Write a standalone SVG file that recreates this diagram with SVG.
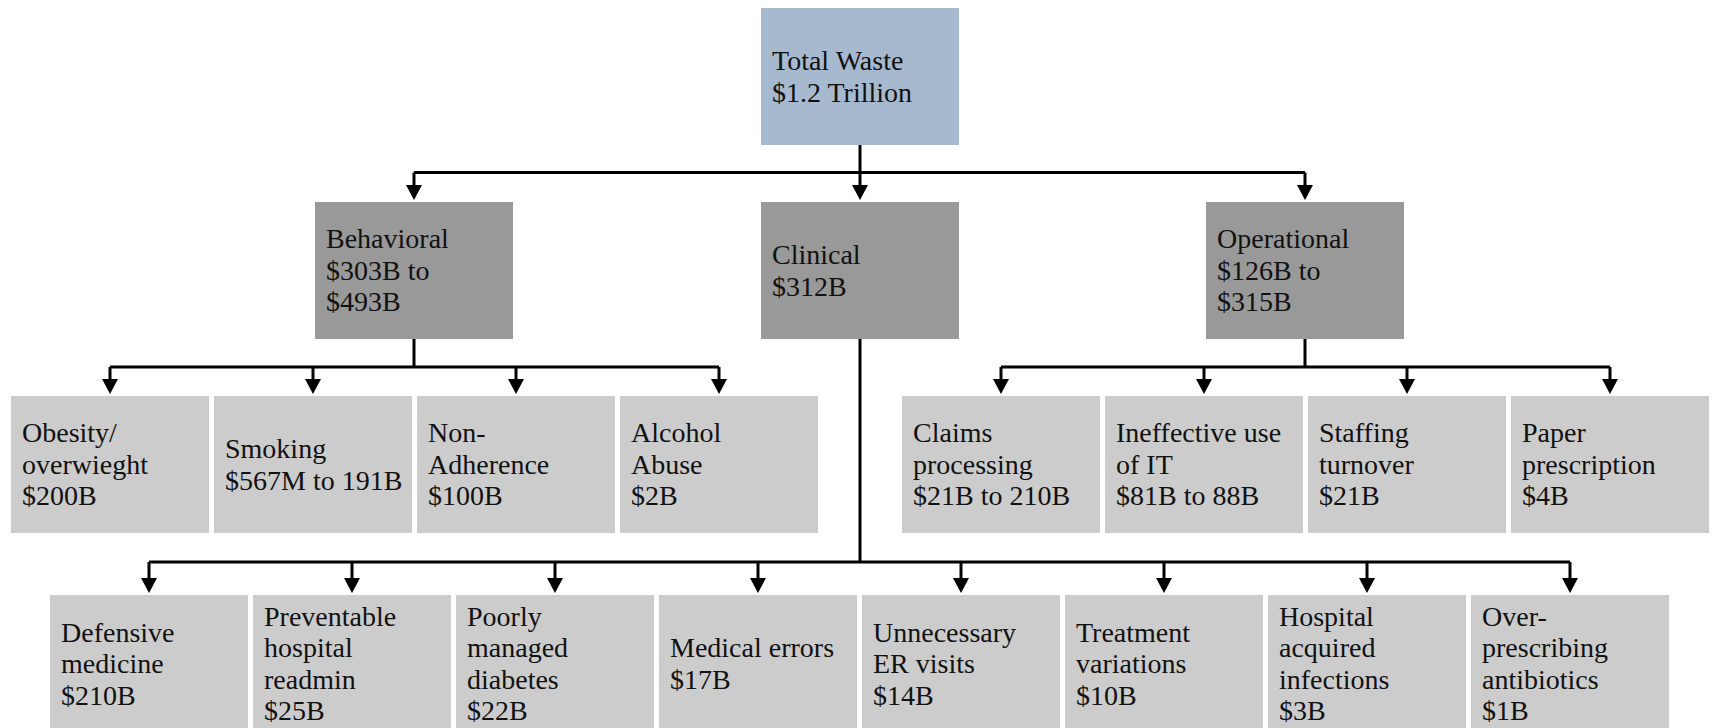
<svg xmlns="http://www.w3.org/2000/svg" width="1712" height="728" viewBox="0 0 1712 728">
<style>
.root{fill:#A6B9CF}
.l2{fill:#999999}
.l3{fill:#CCCCCC}
text{font-family:"Liberation Serif","Times New Roman",serif;font-size:28px;fill:#111111}
.c{fill:none;stroke:#000000;stroke-width:3}
.a{fill:none;stroke:#000000;stroke-width:3;marker-end:url(#arr)}
</style>
<defs>
<marker id="arr" viewBox="0 0 16 16" refX="0" refY="8" markerWidth="16" markerHeight="16" markerUnits="userSpaceOnUse" orient="auto">
<path d="M0,0 L15,8 L0,16 z" fill="#000000"/>
</marker>
</defs>
<g id="connectors">
<path class="c" d="M860,145 V172.5 M414,172.5 H1305"/>
<path class="a" d="M414,172.5 V185"/>
<path class="a" d="M860,172.5 V185"/>
<path class="a" d="M1305,172.5 V185"/>
<path class="c" d="M414,339 V367 M110,367 H719"/>
<path class="a" d="M110,367 V379"/>
<path class="a" d="M313,367 V379"/>
<path class="a" d="M516,367 V379"/>
<path class="a" d="M719,367 V379"/>
<path class="c" d="M1305,339 V367 M1001,367 H1610"/>
<path class="a" d="M1001,367 V379"/>
<path class="a" d="M1204,367 V379"/>
<path class="a" d="M1407,367 V379"/>
<path class="a" d="M1610,367 V379"/>
<path class="c" d="M860,339 V562 M149,562 H1570"/>
<path class="a" d="M149,562 V578"/>
<path class="a" d="M352,562 V578"/>
<path class="a" d="M555,562 V578"/>
<path class="a" d="M758,562 V578"/>
<path class="a" d="M961,562 V578"/>
<path class="a" d="M1164,562 V578"/>
<path class="a" d="M1367,562 V578"/>
<path class="a" d="M1570,562 V578"/>
</g>
<g id="total"><rect class="root" x="761" y="8" width="198" height="137"/><text x="772" y="70">Total Waste<tspan x="772" dy="31.5">$1.2 Trillion</tspan></text></g>
<g id="behavioral"><rect class="l2" x="315" y="202" width="198" height="137"/><text x="326" y="248.3">Behavioral<tspan x="326" dy="31.5">$303B to</tspan><tspan x="326" dy="31.5">$493B</tspan></text></g>
<g id="clinical"><rect class="l2" x="761" y="202" width="198" height="137"/><text x="772" y="264">Clinical<tspan x="772" dy="31.5">$312B</tspan></text></g>
<g id="operational"><rect class="l2" x="1206" y="202" width="198" height="137"/><text x="1217" y="248.3">Operational<tspan x="1217" dy="31.5">$126B to</tspan><tspan x="1217" dy="31.5">$315B</tspan></text></g>
<g id="obesity"><rect class="l3" x="11" y="396" width="198" height="137"/><text x="22" y="442.3">Obesity/<tspan x="22" dy="31.5">overwieght</tspan><tspan x="22" dy="31.5">$200B</tspan></text></g>
<g id="smoking"><rect class="l3" x="214" y="396" width="198" height="137"/><text x="225" y="458">Smoking<tspan x="225" dy="31.5">$567M to 191B</tspan></text></g>
<g id="nonadherence"><rect class="l3" x="417" y="396" width="198" height="137"/><text x="428" y="442.3">Non-<tspan x="428" dy="31.5">Adherence</tspan><tspan x="428" dy="31.5">$100B</tspan></text></g>
<g id="alcohol"><rect class="l3" x="620" y="396" width="198" height="137"/><text x="631" y="442.3">Alcohol<tspan x="631" dy="31.5">Abuse</tspan><tspan x="631" dy="31.5">$2B</tspan></text></g>
<g id="claims"><rect class="l3" x="902" y="396" width="198" height="137"/><text x="913" y="442.3">Claims<tspan x="913" dy="31.5">processing</tspan><tspan x="913" dy="31.5">$21B to 210B</tspan></text></g>
<g id="it"><rect class="l3" x="1105" y="396" width="198" height="137"/><text x="1116" y="442.3">Ineffective use<tspan x="1116" dy="31.5">of IT</tspan><tspan x="1116" dy="31.5">$81B to 88B</tspan></text></g>
<g id="staffing"><rect class="l3" x="1308" y="396" width="198" height="137"/><text x="1319" y="442.3">Staffing<tspan x="1319" dy="31.5">turnover</tspan><tspan x="1319" dy="31.5">$21B</tspan></text></g>
<g id="paper"><rect class="l3" x="1511" y="396" width="198" height="137"/><text x="1522" y="442.3">Paper<tspan x="1522" dy="31.5">prescription</tspan><tspan x="1522" dy="31.5">$4B</tspan></text></g>
<g id="defensive"><rect class="l3" x="50" y="595" width="198" height="137"/><text x="61" y="641.5">Defensive<tspan x="61" dy="31.5">medicine</tspan><tspan x="61" dy="31.5">$210B</tspan></text></g>
<g id="readmin"><rect class="l3" x="253" y="595" width="198" height="137"/><text x="264" y="625.7">Preventable<tspan x="264" dy="31.5">hospital</tspan><tspan x="264" dy="31.5">readmin</tspan><tspan x="264" dy="31.5">$25B</tspan></text></g>
<g id="diabetes"><rect class="l3" x="456" y="595" width="198" height="137"/><text x="467" y="625.7">Poorly<tspan x="467" dy="31.5">managed</tspan><tspan x="467" dy="31.5">diabetes</tspan><tspan x="467" dy="31.5">$22B</tspan></text></g>
<g id="errors"><rect class="l3" x="659" y="595" width="198" height="137"/><text x="670" y="657">Medical errors<tspan x="670" dy="31.5">$17B</tspan></text></g>
<g id="er"><rect class="l3" x="862" y="595" width="198" height="137"/><text x="873" y="641.5">Unnecessary<tspan x="873" dy="31.5">ER visits</tspan><tspan x="873" dy="31.5">$14B</tspan></text></g>
<g id="treatment"><rect class="l3" x="1065" y="595" width="198" height="137"/><text x="1076" y="641.5">Treatment<tspan x="1076" dy="31.5">variations</tspan><tspan x="1076" dy="31.5">$10B</tspan></text></g>
<g id="infections"><rect class="l3" x="1268" y="595" width="198" height="137"/><text x="1279" y="625.7">Hospital<tspan x="1279" dy="31.5">acquired</tspan><tspan x="1279" dy="31.5">infections</tspan><tspan x="1279" dy="31.5">$3B</tspan></text></g>
<g id="antibiotics"><rect class="l3" x="1471" y="595" width="198" height="137"/><text x="1482" y="625.7">Over-<tspan x="1482" dy="31.5">prescribing</tspan><tspan x="1482" dy="31.5">antibiotics</tspan><tspan x="1482" dy="31.5">$1B</tspan></text></g>
</svg>
